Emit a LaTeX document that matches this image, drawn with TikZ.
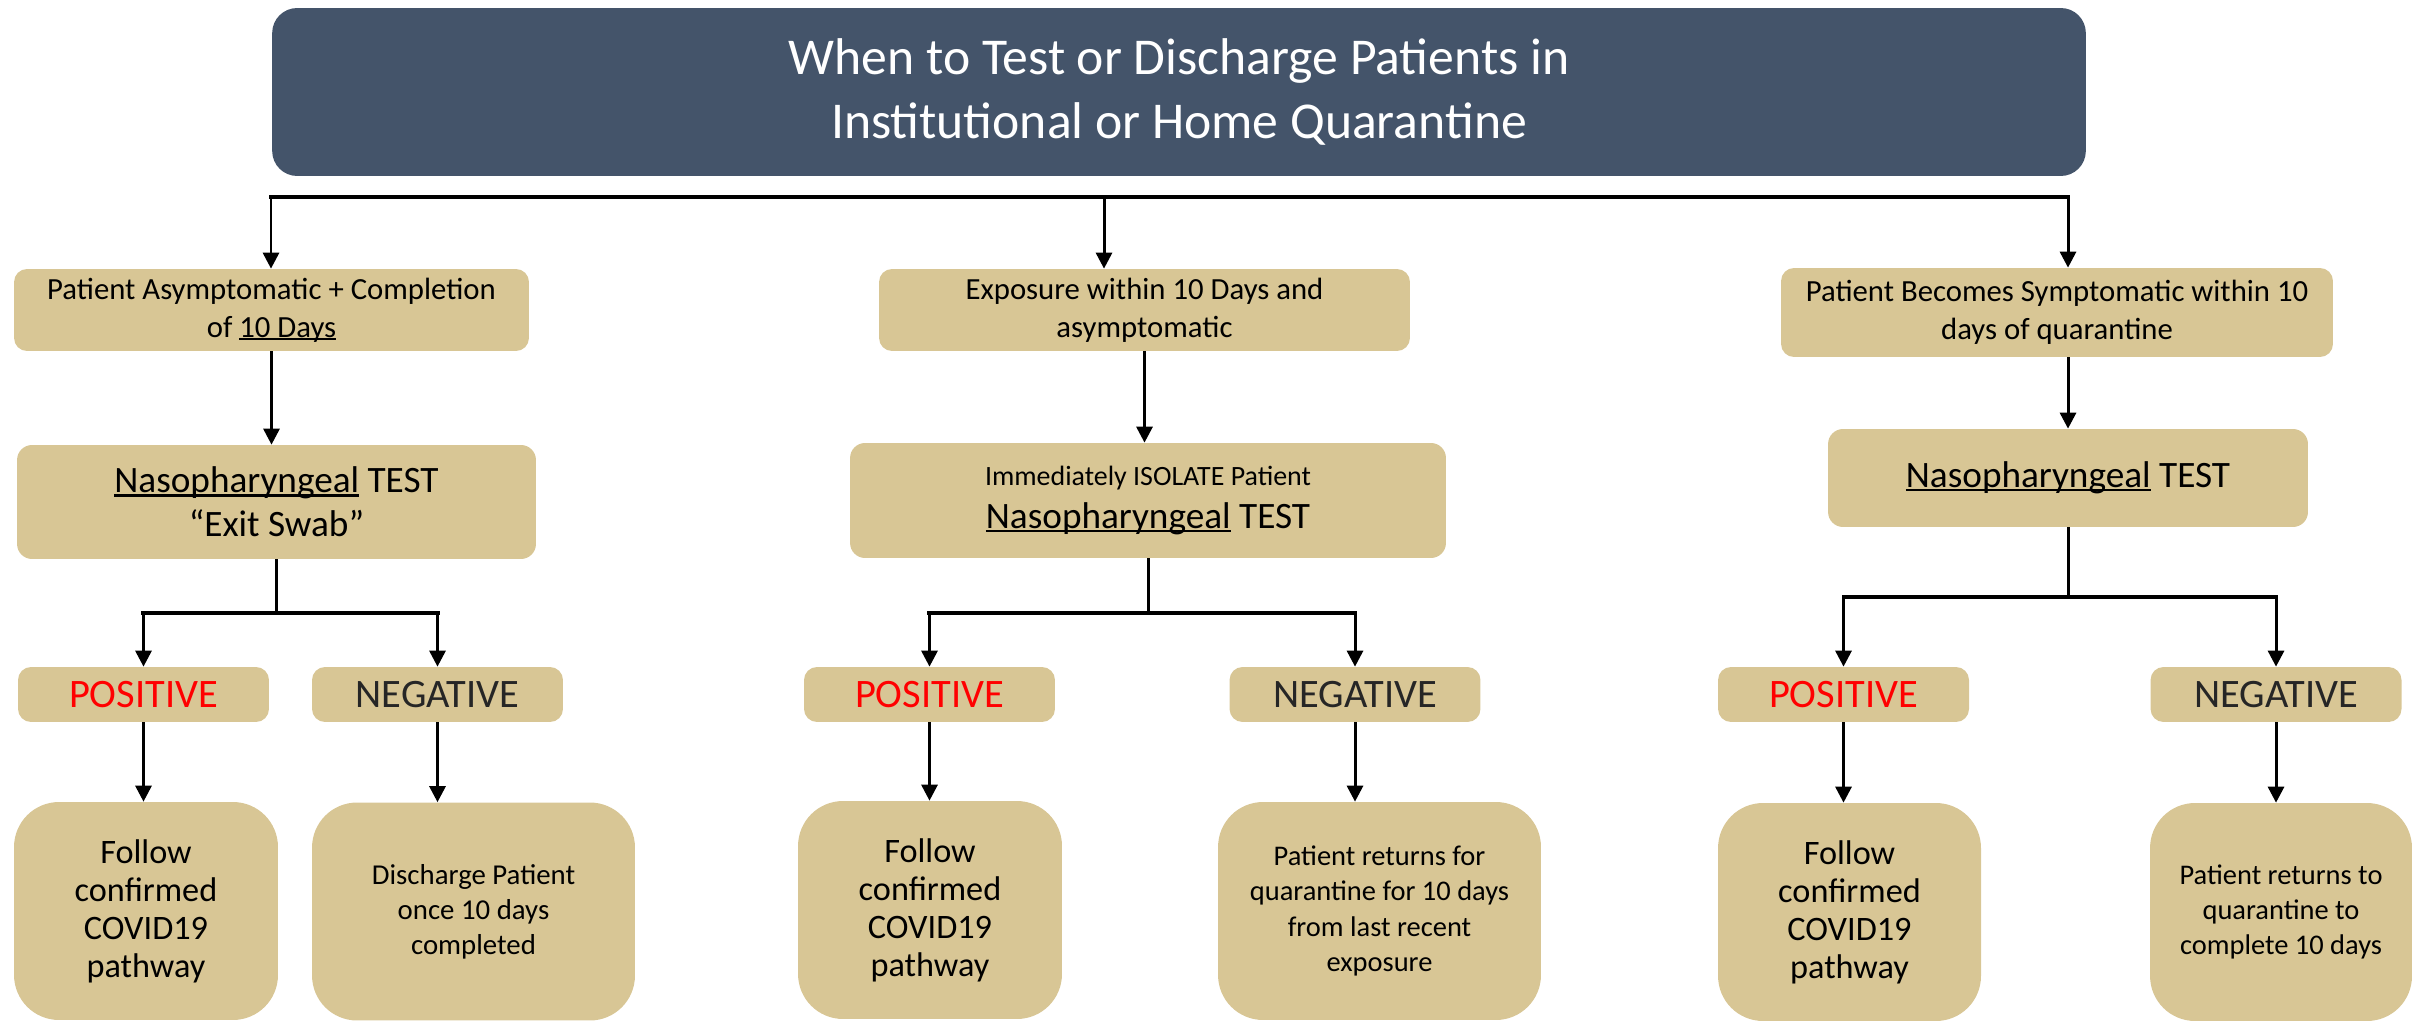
\documentclass[tikz,border=0pt]{standalone}
\usepackage{fontspec}
\setmainfont{Carlito}
\usetikzlibrary{arrows.meta}
\usetikzlibrary{calc}
\definecolor{slate}{RGB}{68,84,106}
\definecolor{sand}{RGB}{216,198,149}
\definecolor{posred}{RGB}{255,0,0}
\definecolor{negtext}{RGB}{38,38,38}
\newcommand{\ulword}[1]{{\setbox0\hbox{#1}\rlap{\rule[-0.1em]{\wd0}{0.06em}}\box0}}
\newcommand{\fsz}[2]{\fontsize{#1}{#2}\selectfont}

\begin{document}
\begin{tikzpicture}[x=0.02cm, y=-0.02cm]
    \tikzstyle{sand box} = [fill=sand, rounded corners=0.26cm, align=center, inner sep=0pt, text=black]
    \tikzstyle{result box} = [sand box, minimum width=5.02cm, minimum height=1.1cm, font=\fsz{23}{25}]
    \tikzstyle{end box} = [sand box, rounded corners=0.9cm, minimum height=4.36cm]
    \tikzstyle{link} = [line width=1.7pt, -{Triangle[length=0.32cm, width=0.32cm]}]
    \tikzstyle{branch line} = [line width=2.3pt, line cap=rect]
    \useasboundingbox (0,0) rectangle (2412,1023);
    % heading
    \node[fill=slate, rounded corners=0.5cm, minimum width=36.28cm, minimum height=3.36cm,
          text=white, align=center, font=\fsz{29.4}{36.4}] (title) at (1179,92)
          {When to Test or Discharge Patients in\\Institutional or Home Quarantine};
    % first row
    \node[sand box, minimum width=10.3cm, minimum height=1.64cm, font=\fsz{17.5}{21.6}] (asym) at (271.5,310)
          {Patient Asymptomatic + Completion\\of \ulword{10 Days}};
    \node[sand box, minimum width=10.62cm, minimum height=1.64cm, font=\fsz{17.5}{21.6}] (expo) at (1144.5,310)
          {Exposure within 10 Days and\\asymptomatic};
    \node[sand box, minimum width=11.04cm, minimum height=1.78cm, font=\fsz{17.5}{21.6}] (symp) at (2057,312.5)
          {Patient Becomes Symptomatic within 10\\days of quarantine};
    % tests
    \node[sand box, rounded corners=0.3cm, minimum width=10.38cm, minimum height=2.28cm, font=\fsz{21.2}{25}] (swabA) at (276.5,502)
          {\ulword{Nasopharyngeal} TEST\\“Exit Swab”};
    \node[sand box, rounded corners=0.3cm, minimum width=11.92cm, minimum height=2.3cm, font=\fsz{21.2}{24}] (swabB) at (1148,500.5)
          {{\fsz{15.9}{24}Immediately ISOLATE Patient}\\\ulword{Nasopharyngeal} TEST};
    \node[sand box, rounded corners=0.3cm, minimum width=9.6cm, minimum height=1.96cm, font=\fsz{21.2}{25}] (swabC) at (2068,478)
          {\ulword{Nasopharyngeal} TEST};
    % results
    \foreach \col/\px/\nx in {A/143.5/437.5, B/929.5/1355, C/1843.5/2276} {
        \node[result box, text=posred] (pos\col) at (\px,694.5) {POSITIVE};
        \node[result box, text=negtext] (neg\col) at (\nx,694.5) {NEGATIVE};
    }
    % outcomes
    \node[end box, minimum width=5.28cm, font=\fsz{19.5}{21.6}] (followA) at (146,911) {Follow\\confirmed\\COVID19\\pathway};
    \node[end box, minimum width=6.46cm, font=\fsz{16.4}{20}] (dischA) at (473.5,911.5) {Discharge Patient\\once 10 days\\completed};
    \node[end box, minimum width=5.28cm, font=\fsz{19.5}{21.6}] (followB) at (930,910) {Follow\\confirmed\\COVID19\\pathway};
    \node[end box, minimum width=6.46cm, font=\fsz{16.2}{20}] (returnB) at (1379.5,911)
          {Patient returns for\\quarantine for 10 days\\from last recent\\exposure};
    \node[end box, minimum width=5.26cm, font=\fsz{19.5}{21.6}] (followC) at (1849.5,912) {Follow\\confirmed\\COVID19\\pathway};
    \node[end box, minimum width=5.24cm, font=\fsz{16.2}{20}] (returnC) at (2281,912)
          {Patient returns to\\quarantine to\\complete 10 days};
    % top bar
    \coordinate (barL) at (271,197);
    \coordinate (barM) at (1104,197);
    \coordinate (barR) at (2068,197);
    \draw[branch line] (barL) -- (barR);
    \draw[link] (barL) -- (barL |- asym.north);
    \draw[link] (barM) -- (barM |- expo.north);
    \draw[link] (barR) -- (barR |- symp.north);
    \draw[link] (asym.south) -- (asym.south |- swabA.north);
    \draw[link] (expo.south) -- (expo.south |- swabB.north);
    \draw[link] (swabC.north |- symp.south) -- (swabC.north);
    % forks
    \foreach \col/\d/\nend in {A/54/dischA, B/55/returnB, C/70/returnC} {
        \path (swab\col.south) ++(0,\d) coordinate (fork\col);
        \draw[line width=1.7pt] (swab\col.south) -- (fork\col);
        \draw[branch line] (pos\col.north |- fork\col) -- (neg\col.north |- fork\col);
        \draw[link] (pos\col.north |- fork\col) -- (pos\col.north);
        \draw[link] (neg\col.north |- fork\col) -- (neg\col.north);
        \draw[link] (pos\col.south) -- (pos\col.south |- follow\col.north);
        \draw[link] (neg\col.south) -- (neg\col.south |- \nend.north);
    }
\end{tikzpicture}
\end{document}
